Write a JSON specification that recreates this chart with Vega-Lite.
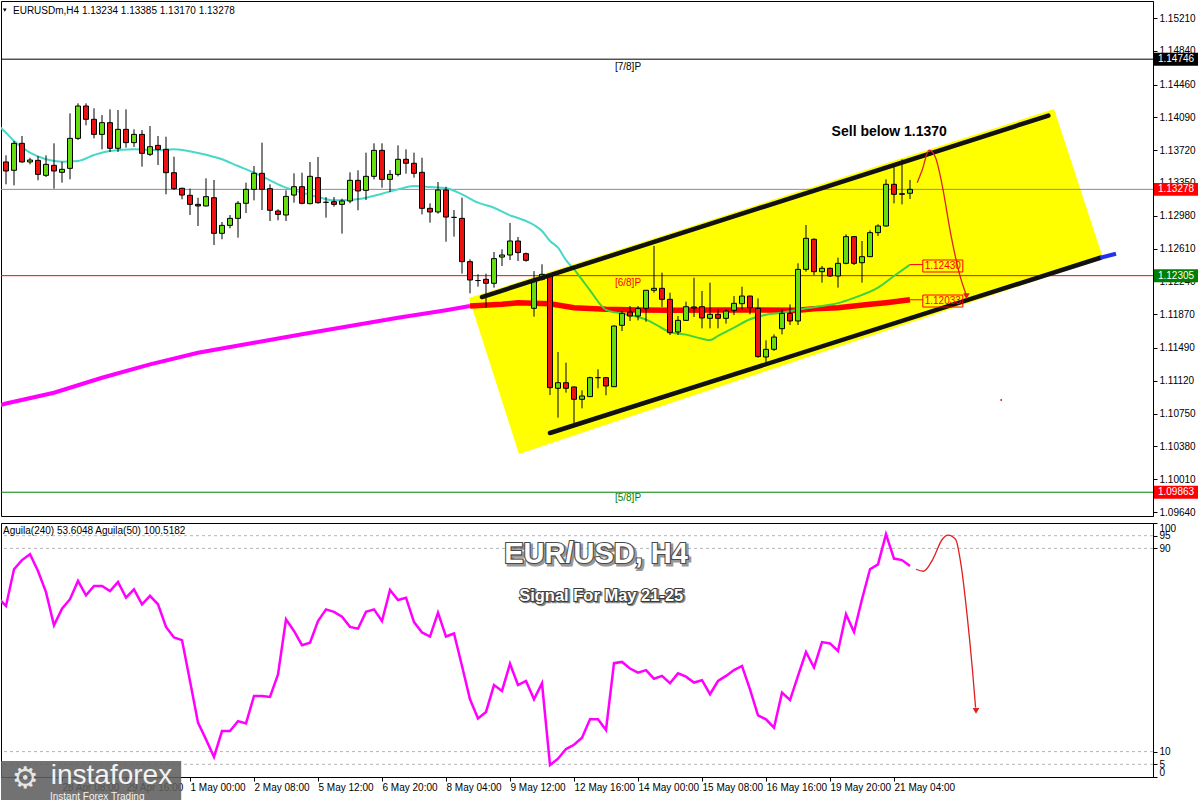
{
"$schema": "https://vega.github.io/schema/vega-lite/v6.json",
"background": "white",
"padding": 0,
"spacing": 4,
"config": {"view": {"stroke": "#000000", "strokeWidth": 1}, "scale": {"continuousPadding": 0}, "font": "Liberation Sans", "axis": {"labelOverlap": false}},
"datasets": {
"one": [{"n": 1}],
"candles": [
{"k":0,"o":1.13587,"h":1.13662,"l":1.13335,"c":1.13485},
{"k":1,"o":1.13493,"h":1.13823,"l":1.13323,"c":1.13797},
{"k":2,"o":1.13797,"h":1.13880,"l":1.13579,"c":1.13587},
{"k":3,"o":1.13587,"h":1.13635,"l":1.13560,"c":1.13609},
{"k":4,"o":1.13605,"h":1.13654,"l":1.13380,"c":1.13447},
{"k":5,"o":1.13436,"h":1.13662,"l":1.13417,"c":1.13560},
{"k":6,"o":1.13549,"h":1.13797,"l":1.13286,"c":1.13485},
{"k":7,"o":1.13470,"h":1.13590,"l":1.13354,"c":1.13504},
{"k":8,"o":1.13515,"h":1.14135,"l":1.13391,"c":1.13853},
{"k":9,"o":1.13853,"h":1.14248,"l":1.13835,"c":1.14218},
{"k":10,"o":1.14218,"h":1.14248,"l":1.14000,"c":1.14068},
{"k":11,"o":1.14068,"h":1.14192,"l":1.13853,"c":1.13898},
{"k":12,"o":1.13898,"h":1.14116,"l":1.13729,"c":1.14030},
{"k":13,"o":1.14030,"h":1.14180,"l":1.13699,"c":1.13741},
{"k":14,"o":1.13741,"h":1.14173,"l":1.13699,"c":1.13955},
{"k":15,"o":1.13955,"h":1.14180,"l":1.13748,"c":1.13805},
{"k":16,"o":1.13805,"h":1.13955,"l":1.13756,"c":1.13898},
{"k":17,"o":1.13898,"h":1.13947,"l":1.13534,"c":1.13684},
{"k":18,"o":1.13673,"h":1.13992,"l":1.13654,"c":1.13759},
{"k":19,"o":1.13774,"h":1.13880,"l":1.13553,"c":1.13729},
{"k":20,"o":1.13729,"h":1.13872,"l":1.13222,"c":1.13466},
{"k":21,"o":1.13466,"h":1.13647,"l":1.13271,"c":1.13286},
{"k":22,"o":1.13290,"h":1.13297,"l":1.13166,"c":1.13214},
{"k":23,"o":1.13211,"h":1.13286,"l":1.12989,"c":1.13109},
{"k":24,"o":1.13109,"h":1.13184,"l":1.12865,"c":1.13091},
{"k":25,"o":1.13091,"h":1.13402,"l":1.13085,"c":1.13196},
{"k":26,"o":1.13184,"h":1.13384,"l":1.12651,"c":1.12782},
{"k":27,"o":1.12782,"h":1.12910,"l":1.12715,"c":1.12872},
{"k":28,"o":1.12872,"h":1.12989,"l":1.12839,"c":1.12951},
{"k":29,"o":1.12951,"h":1.13147,"l":1.12734,"c":1.13121},
{"k":30,"o":1.13121,"h":1.13354,"l":1.13011,"c":1.13278},
{"k":31,"o":1.13278,"h":1.13541,"l":1.13154,"c":1.13459},
{"k":32,"o":1.13459,"h":1.13805,"l":1.13045,"c":1.13278},
{"k":33,"o":1.13286,"h":1.13335,"l":1.12921,"c":1.13042},
{"k":34,"o":1.13034,"h":1.13053,"l":1.12929,"c":1.12996},
{"k":35,"o":1.12989,"h":1.13267,"l":1.12921,"c":1.13199},
{"k":36,"o":1.13214,"h":1.13459,"l":1.13128,"c":1.13308},
{"k":37,"o":1.13308,"h":1.13466,"l":1.13109,"c":1.13121},
{"k":38,"o":1.13117,"h":1.13587,"l":1.13109,"c":1.13425},
{"k":39,"o":1.13410,"h":1.13643,"l":1.13117,"c":1.13128},
{"k":40,"o":1.13132,"h":1.13192,"l":1.12959,"c":1.13132},
{"k":41,"o":1.13139,"h":1.13192,"l":1.13083,"c":1.13109},
{"k":42,"o":1.13109,"h":1.13173,"l":1.12779,"c":1.13147},
{"k":43,"o":1.13147,"h":1.13470,"l":1.13121,"c":1.13380},
{"k":44,"o":1.13380,"h":1.13493,"l":1.13042,"c":1.13260},
{"k":45,"o":1.13267,"h":1.13692,"l":1.13158,"c":1.13425},
{"k":46,"o":1.13425,"h":1.13797,"l":1.13391,"c":1.13718},
{"k":47,"o":1.13718,"h":1.13797,"l":1.13297,"c":1.13391},
{"k":48,"o":1.13391,"h":1.13496,"l":1.13248,"c":1.13447},
{"k":49,"o":1.13447,"h":1.13774,"l":1.13425,"c":1.13617},
{"k":50,"o":1.13617,"h":1.13729,"l":1.13455,"c":1.13572},
{"k":51,"o":1.13572,"h":1.13692,"l":1.13410,"c":1.13459},
{"k":52,"o":1.13470,"h":1.13635,"l":1.12996,"c":1.13064},
{"k":53,"o":1.13064,"h":1.13121,"l":1.12903,"c":1.13023},
{"k":54,"o":1.13023,"h":1.13361,"l":1.13004,"c":1.13271},
{"k":55,"o":1.13271,"h":1.13308,"l":1.12688,"c":1.12966},
{"k":56,"o":1.12962,"h":1.13045,"l":1.12745,"c":1.12962},
{"k":57,"o":1.12951,"h":1.13184,"l":1.12328,"c":1.12463},
{"k":58,"o":1.12463,"h":1.12489,"l":1.12106,"c":1.12256},
{"k":59,"o":1.12250,"h":1.12320,"l":1.12181,"c":1.12250},
{"k":60,"o":1.12264,"h":1.12328,"l":1.11944,"c":1.12219},
{"k":61,"o":1.12219,"h":1.12572,"l":1.12170,"c":1.12497},
{"k":62,"o":1.12515,"h":1.12602,"l":1.12414,"c":1.12538},
{"k":63,"o":1.12538,"h":1.12900,"l":1.12481,"c":1.12696},
{"k":64,"o":1.12696,"h":1.12741,"l":1.12470,"c":1.12565},
{"k":65,"o":1.12553,"h":1.12565,"l":1.12463,"c":1.12478},
{"k":66,"o":1.11937,"h":1.12357,"l":1.11843,"c":1.12245},
{"k":67,"o":1.12264,"h":1.12433,"l":1.12250,"c":1.12320},
{"k":68,"o":1.12301,"h":1.12320,"l":1.10960,"c":1.11042},
{"k":69,"o":1.11035,"h":1.11444,"l":1.10704,"c":1.11098},
{"k":70,"o":1.11098,"h":1.11324,"l":1.10986,"c":1.11035},
{"k":71,"o":1.11050,"h":1.11055,"l":1.10636,"c":1.10911},
{"k":72,"o":1.10911,"h":1.11012,"l":1.10809,"c":1.10948},
{"k":73,"o":1.10941,"h":1.11166,"l":1.10941,"c":1.11155},
{"k":74,"o":1.11155,"h":1.11249,"l":1.11035,"c":1.11155},
{"k":75,"o":1.11155,"h":1.11162,"l":1.10956,"c":1.11061},
{"k":76,"o":1.11053,"h":1.11745,"l":1.11050,"c":1.11737},
{"k":77,"o":1.11745,"h":1.11907,"l":1.11681,"c":1.11880},
{"k":78,"o":1.11895,"h":1.11963,"l":1.11794,"c":1.11850},
{"k":79,"o":1.11850,"h":1.11963,"l":1.11801,"c":1.11933},
{"k":80,"o":1.11937,"h":1.12140,"l":1.11786,"c":1.12140},
{"k":81,"o":1.12140,"h":1.12640,"l":1.12113,"c":1.12162},
{"k":82,"o":1.12162,"h":1.12339,"l":1.11952,"c":1.12038},
{"k":83,"o":1.12038,"h":1.12113,"l":1.11636,"c":1.11662},
{"k":84,"o":1.11670,"h":1.11850,"l":1.11636,"c":1.11801},
{"k":85,"o":1.11801,"h":1.12012,"l":1.11794,"c":1.11955},
{"k":86,"o":1.11952,"h":1.12282,"l":1.11839,"c":1.11940},
{"k":87,"o":1.11955,"h":1.12132,"l":1.11711,"c":1.11828},
{"k":88,"o":1.11824,"h":1.12226,"l":1.11711,"c":1.11869},
{"k":89,"o":1.11869,"h":1.11925,"l":1.11711,"c":1.11824},
{"k":90,"o":1.11824,"h":1.11925,"l":1.11764,"c":1.11906},
{"k":91,"o":1.11914,"h":1.12075,"l":1.11861,"c":1.11993},
{"k":92,"o":1.11989,"h":1.12181,"l":1.11925,"c":1.12075},
{"k":93,"o":1.12075,"h":1.12080,"l":1.11869,"c":1.11944},
{"k":94,"o":1.11937,"h":1.12049,"l":1.11380,"c":1.11392},
{"k":95,"o":1.11388,"h":1.11576,"l":1.11313,"c":1.11474},
{"k":96,"o":1.11474,"h":1.11643,"l":1.11456,"c":1.11613},
{"k":97,"o":1.11707,"h":1.11925,"l":1.11643,"c":1.11880},
{"k":98,"o":1.11880,"h":1.11981,"l":1.11749,"c":1.11794},
{"k":99,"o":1.11794,"h":1.12444,"l":1.11749,"c":1.12376},
{"k":100,"o":1.12376,"h":1.12876,"l":1.12350,"c":1.12726},
{"k":101,"o":1.12715,"h":1.12726,"l":1.12312,"c":1.12350},
{"k":102,"o":1.12350,"h":1.12414,"l":1.12226,"c":1.12388},
{"k":103,"o":1.12388,"h":1.12395,"l":1.12290,"c":1.12301},
{"k":104,"o":1.12301,"h":1.12508,"l":1.12170,"c":1.12444},
{"k":105,"o":1.12444,"h":1.12771,"l":1.12433,"c":1.12745},
{"k":106,"o":1.12745,"h":1.12752,"l":1.12425,"c":1.12444},
{"k":107,"o":1.12451,"h":1.12696,"l":1.12226,"c":1.12519},
{"k":108,"o":1.12519,"h":1.12816,"l":1.12515,"c":1.12790},
{"k":109,"o":1.12790,"h":1.12884,"l":1.12752,"c":1.12865},
{"k":110,"o":1.12865,"h":1.13391,"l":1.12857,"c":1.13335},
{"k":111,"o":1.13335,"h":1.13530,"l":1.13120,"c":1.13222},
{"k":112,"o":1.13229,"h":1.13616,"l":1.13109,"c":1.13222},
{"k":113,"o":1.13234,"h":1.13385,"l":1.13170,"c":1.13278}
],
"maCyan": [
{"k":-0.7,"p":1.13975},{"k":0,"p":1.13917},{"k":1,"p":1.13823},{"k":3,"p":1.13692},{"k":5,"p":1.13617},{"k":7,"p":1.13590},{"k":9,"p":1.13598},{"k":11,"p":1.13665},{"k":13,"p":1.13711},{"k":16,"p":1.13729},{"k":19,"p":1.13722},{"k":21,"p":1.13729},{"k":24,"p":1.13688},{"k":27,"p":1.13617},{"k":29,"p":1.13541},{"k":31,"p":1.13466},{"k":33,"p":1.13380},{"k":35,"p":1.13297},{"k":37,"p":1.13241},{"k":39,"p":1.13192},{"k":41,"p":1.13154},{"k":43,"p":1.13158},{"k":45,"p":1.13184},{"k":47,"p":1.13229},{"k":49,"p":1.13278},{"k":51,"p":1.13316},{"k":53,"p":1.13305},{"k":55,"p":1.13290},{"k":57,"p":1.13222},{"k":59,"p":1.13128},{"k":61,"p":1.13071},{"k":63,"p":1.12985},{"k":64,"p":1.12955},{"k":66,"p":1.12876},{"k":67,"p":1.12808},{"k":68,"p":1.12696},{"k":69,"p":1.12620},{"k":70,"p":1.12480},{"k":71,"p":1.12380}
],
"maGreen": [
{"k":71,"p":1.12380},{"k":72,"p":1.12260},{"k":73,"p":1.12140},{"k":75,"p":1.11920},{"k":77,"p":1.11878},{"k":79,"p":1.11839},{"k":80,"p":1.11810},{"k":81,"p":1.11765},{"k":83,"p":1.11668},{"k":85,"p":1.11640},{"k":87,"p":1.11593},{"k":88,"p":1.11579},{"k":89,"p":1.11625},{"k":91,"p":1.11718},{"k":93,"p":1.11813},{"k":95,"p":1.11865},{"k":97,"p":1.11887},{"k":99,"p":1.11920},{"k":102,"p":1.11963},{"k":104,"p":1.11995},{"k":106,"p":1.12055},{"k":109,"p":1.12169},{"k":111,"p":1.12301},{"k":113,"p":1.12430}
],
"maMag": [
{"k":-0.7,"p":1.10845},{"k":0,"p":1.10863},{"k":6,"p":1.10985},{"k":12,"p":1.11154},{"k":18,"p":1.11305},{"k":24,"p":1.11436},{"k":31,"p":1.11549},{"k":37,"p":1.11644},{"k":43,"p":1.11737},{"k":49,"p":1.11831},{"k":55,"p":1.11915},{"k":58,"p":1.11963}
],
"maRed": [
{"k":58,"p":1.11963},{"k":62,"p":1.11982},{"k":64,"p":1.12000},{"k":68,"p":1.11989},{"k":71,"p":1.11944},{"k":75,"p":1.11926},{"k":79,"p":1.11918},{"k":83,"p":1.11914},{"k":89,"p":1.11918},{"k":93,"p":1.11918},{"k":99,"p":1.11914},{"k":101,"p":1.11932},{"k":104,"p":1.11944},{"k":108,"p":1.11982},{"k":110,"p":1.12000},{"k":113,"p":1.12033}
],
"band": [
{"k":57.875,"top":1.12053,"bot":1.12053},{"k":64.125,"top":1.12235,"bot":1.10294},{"k":131,"top":1.14184,"bot":1.12319},{"k":137.125,"top":1.12504,"bot":1.12504}
],
"chanUp": [{"k":59.5,"p":1.12064},{"k":130.3,"p":1.14110}],
"chanLo": [{"k":68,"p":1.10531},{"k":136.8,"p":1.12507}],
"chanBlue": [{"k":136.8,"p":1.12507},{"k":138.75,"p":1.12552}],
"arrowUp": [{"k":113.9,"p":1.13353},{"k":114.5,"p":1.13490},{"k":115.4,"p":1.13720},{"k":116.2,"p":1.13635},{"k":117,"p":1.13335},{"k":118.1,"p":1.12771},{"k":119.2,"p":1.12320},{"k":120,"p":1.12094}],
"arrowLo": [{"k":113.74,"v":81.8},{"k":114.68,"v":81.0},{"k":115.85,"v":85.7},{"k":117.04,"v":93.6},{"k":117.75,"v":95.2},{"k":118.69,"v":93.6},{"k":119.4,"v":83.1},{"k":120.1,"v":64.8},{"k":120.8,"v":42.4},{"k":121.2,"v":27.3}],
"osc": [
{"k":-0.7,"v":69.6},{"k":0,"v":67.3},{"k":1,"v":81.8},{"k":2,"v":85.4},{"k":3,"v":87.7},{"k":4,"v":81.1},{"k":5,"v":72.8},{"k":6,"v":59.7},{"k":7,"v":66.3},{"k":8,"v":70.0},{"k":9,"v":77.2},{"k":10,"v":71.5},{"k":11,"v":75.2},{"k":12,"v":75.2},{"k":13,"v":73.2},{"k":14,"v":76.8},{"k":15,"v":70.6},{"k":16,"v":73.9},{"k":17,"v":68.0},{"k":18,"v":71.3},{"k":19,"v":68.0},{"k":20,"v":59.1},{"k":21,"v":54.9},{"k":22,"v":53.9},{"k":23,"v":37.8},{"k":24,"v":21.4},{"k":25,"v":14.8},{"k":26,"v":7.9},{"k":27,"v":18.1},{"k":28,"v":18.1},{"k":29,"v":22.0},{"k":30,"v":21.1},{"k":31,"v":31.9},{"k":32,"v":31.9},{"k":33,"v":31.5},{"k":34,"v":40.4},{"k":35,"v":62.1},{"k":36,"v":57.5},{"k":37,"v":51.9},{"k":38,"v":52.9},{"k":39,"v":61.4},{"k":40,"v":66.0},{"k":41,"v":65.0},{"k":42,"v":63.1},{"k":43,"v":59.1},{"k":44,"v":58.4},{"k":45,"v":65.0},{"k":46,"v":66.0},{"k":47,"v":61.4},{"k":48,"v":73.6},{"k":49,"v":69.7},{"k":50,"v":70.6},{"k":51,"v":61.0},{"k":52,"v":56.9},{"k":53,"v":55.3},{"k":54,"v":64.7},{"k":55,"v":55.3},{"k":56,"v":56.5},{"k":57,"v":43.7},{"k":58,"v":30.6},{"k":59,"v":23.0},{"k":60,"v":25.6},{"k":61,"v":36.2},{"k":62,"v":33.9},{"k":63,"v":44.6},{"k":64,"v":36.2},{"k":65,"v":37.8},{"k":66,"v":30.6},{"k":67,"v":36.9},{"k":68,"v":4.7},{"k":69,"v":7.2},{"k":70,"v":11.0},{"k":71,"v":12.7},{"k":72,"v":15.5},{"k":73,"v":22.7},{"k":74,"v":22.7},{"k":75,"v":18.5},{"k":76,"v":44.8},{"k":77,"v":45.3},{"k":78,"v":42.7},{"k":79,"v":41.1},{"k":80,"v":42.1},{"k":81,"v":38.7},{"k":82,"v":39.8},{"k":83,"v":36.9},{"k":84,"v":40.8},{"k":85,"v":39.5},{"k":86,"v":37.2},{"k":87,"v":38.1},{"k":88,"v":32.6},{"k":89,"v":37.8},{"k":90,"v":39.8},{"k":91,"v":42.1},{"k":92,"v":43.7},{"k":93,"v":34.5},{"k":94,"v":24.3},{"k":95,"v":22.7},{"k":96,"v":19.4},{"k":97,"v":33.2},{"k":98,"v":30.3},{"k":99,"v":39.8},{"k":100,"v":49.2},{"k":101,"v":43.1},{"k":102,"v":53.1},{"k":103,"v":52.6},{"k":104,"v":49.6},{"k":105,"v":64.1},{"k":106,"v":57.1},{"k":107,"v":70.0},{"k":108,"v":81.8},{"k":109,"v":83.7},{"k":110,"v":95.6},{"k":111,"v":86.0},{"k":112,"v":85.4},{"k":113,"v":83.1}
],
"levels": [{"lv":5},{"lv":10},{"lv":90},{"lv":95}],
"priceTags": [{"p":1.14746,"t":"1.14746"},{"p":1.13278,"t":"1.13278"},{"p":1.12305,"t":"1.12305"},{"p":1.09863,"t":"1.09863"}],
"upTexts": [
{"k":110.4,"p":1.13925,"t":"Sell below 1.1370","g":"sell"},
{"k":77.75,"p":1.14658,"t":"[7/8]P","g":"p7"},
{"k":77.75,"p":1.12222,"t":"[6/8]P","g":"p6"},
{"k":77.75,"p":1.09798,"t":"[5/8]P","g":"p5"},
{"k":117.1,"p":1.12414,"t":"1.12430","g":"ma1"},
{"k":117.1,"p":1.12019,"t":"1.12033","g":"ma2"}
],
"maBoxes": [{"k":117.1,"p":1.12414},{"k":117.1,"p":1.12019}],
"maLinks": [{"k":113,"k2":114.6,"p":1.12430},{"k":113,"k2":114.6,"p":1.12033}],
"header": [{"k":0.875,"p":1.15289,"t":"EURUSDm,H4  1.13234 1.13385 1.13170 1.13278"}],
"headMark": [{"k":-0.15,"p":1.15300}],
"arrowTipUp": [{"k":120.05,"p":1.12075}],
"dot": [{"k":124.4,"p":1.10903}],
"arrowTipLo": [{"k":121.25,"v":26}],
"title": [{"k":73.75,"v":87.7,"t":"EUR/USD, H4"}],
"subtitle": [{"k":74.4,"v":71.3,"t":"Signal For May 21-25"}],
"oscHeader": [{"k":-0.375,"v":96.9,"t":"Aguila(240) 53.6048  Aguila(50) 100.5182"}],
"logoBox": [{"k":-0.625,"k2":21.9,"v":6.3,"v2":-9.8}],
"logoGear": [{"k":2.4,"v":-0.8,"t":"⚙"}],
"logoName": [{"k":5.6,"v":-2.6,"t":"instaforex"}],
"logoTag": [{"k":5.5,"v":-9.0,"t":"Instant Forex Trading"}]
},
"vconcat": [
{
"width": 1152, "height": 515,
"layer": [
{"data": {"name": "band"}, "mark": {"type": "area", "color": "#ffff00", "opacity": 1},
 "encoding": {"x": {"field": "k", "type": "quantitative", "scale": {"domain": [-0.625, 143.375], "nice": false, "zero": false, "padding": 0}, "axis": null},
  "y": {"field": "top", "type": "quantitative", "scale": {"domain": [1.09595, 1.15402], "nice": false, "zero": false},
   "axis": {"orient": "right", "title": null, "grid": false, "tickCount": 40, "values": [1.15210,1.14840,1.14460,1.14090,1.13720,1.13350,1.12980,1.12610,1.12240,1.11870,1.11490,1.11120,1.10750,1.10380,1.10010,1.09640], "format": ".5f", "labelFont": "Liberation Sans", "labelFontSize": 10, "labelColor": "#000000", "tickColor": "#000000", "tickSize": 4, "domainColor": "#000000", "labelPadding": 2, "labelOverlap": false, "labelFlush": false, "labelBound": false}},
  "y2": {"field": "bot"}}},
{"data": {"name": "one"}, "mark": {"type": "rule", "color": "#000000", "strokeWidth": 1}, "encoding": {"y": {"datum": 1.14746, "type": "quantitative"}}},
{"data": {"name": "one"}, "mark": {"type": "rule", "color": "#7d8ea8", "strokeWidth": 1}, "encoding": {"y": {"datum": 1.13278, "type": "quantitative"}}},
{"data": {"name": "one"}, "mark": {"type": "rule", "color": "#ff0000", "strokeWidth": 1}, "encoding": {"y": {"datum": 1.12305, "type": "quantitative"}}},
{"data": {"name": "one"}, "mark": {"type": "rule", "color": "#008000", "strokeWidth": 1}, "encoding": {"y": {"datum": 1.09863, "type": "quantitative"}}},
{"data": {"name": "maMag"}, "mark": {"type": "line", "color": "#ff00ff", "strokeWidth": 4, "clip": true},
 "encoding": {"x": {"field": "k", "type": "quantitative", "axis": null}, "y": {"field": "p", "type": "quantitative"}}},
{"data": {"name": "maRed"}, "mark": {"type": "line", "color": "#ff0000", "strokeWidth": 5.5},
 "encoding": {"x": {"field": "k", "type": "quantitative", "axis": null}, "y": {"field": "p", "type": "quantitative"}}},
{"data": {"name": "maCyan"}, "mark": {"type": "line", "color": "#48d8c8", "strokeWidth": 2, "interpolate": "monotone", "clip": true},
 "encoding": {"x": {"field": "k", "type": "quantitative", "axis": null}, "y": {"field": "p", "type": "quantitative"}}},
{"data": {"name": "maGreen"}, "mark": {"type": "line", "color": "#3fd23f", "strokeWidth": 2, "interpolate": "monotone"},
 "encoding": {"x": {"field": "k", "type": "quantitative", "axis": null}, "y": {"field": "p", "type": "quantitative"}}},
{"data": {"name": "candles"}, "mark": {"type": "rule", "color": "#000000", "strokeWidth": 1},
 "encoding": {"x": {"field": "k", "type": "quantitative", "axis": null}, "y": {"field": "l", "type": "quantitative"}, "y2": {"field": "h"}}},
{"data": {"name": "candles"}, "mark": {"type": "bar", "width": 5, "stroke": "#000000", "strokeWidth": 1},
 "encoding": {"x": {"field": "k", "type": "quantitative", "axis": null}, "y": {"field": "o", "type": "quantitative"}, "y2": {"field": "c"},
  "fill": {"condition": {"test": "datum.c >= datum.o", "value": "#66dd11"}, "value": "#ee1111"}}},
{"data": {"name": "chanUp"}, "mark": {"type": "line", "color": "#111111", "strokeWidth": 4.5, "strokeCap": "round"},
 "encoding": {"x": {"field": "k", "type": "quantitative", "axis": null}, "y": {"field": "p", "type": "quantitative"}}},
{"data": {"name": "chanLo"}, "mark": {"type": "line", "color": "#111111", "strokeWidth": 4.5, "strokeCap": "round"},
 "encoding": {"x": {"field": "k", "type": "quantitative", "axis": null}, "y": {"field": "p", "type": "quantitative"}}},
{"data": {"name": "chanBlue"}, "mark": {"type": "line", "color": "#2233ee", "strokeWidth": 4},
 "encoding": {"x": {"field": "k", "type": "quantitative", "axis": null}, "y": {"field": "p", "type": "quantitative"}}},
{"data": {"name": "arrowUp"}, "mark": {"type": "line", "color": "#e02020", "strokeWidth": 1.3, "interpolate": "monotone"},
 "encoding": {"x": {"field": "k", "type": "quantitative", "axis": null}, "y": {"field": "p", "type": "quantitative"}}},
{"data": {"name": "arrowTipUp"}, "mark": {"type": "point", "shape": "triangle-down", "filled": true, "color": "#e02020", "size": 45, "opacity": 1},
 "encoding": {"x": {"field": "k", "type": "quantitative", "axis": null}, "y": {"field": "p", "type": "quantitative"}}},
{"data": {"name": "dot"}, "mark": {"type": "point", "shape": "circle", "filled": true, "color": "#e02020", "size": 4, "opacity": 1},
 "encoding": {"x": {"field": "k", "type": "quantitative", "axis": null}, "y": {"field": "p", "type": "quantitative"}}},
{"data": {"name": "maLinks"}, "mark": {"type": "rule", "color": "#ff0000", "strokeWidth": 1},
 "encoding": {"x": {"field": "k", "type": "quantitative", "axis": null}, "x2": {"field": "k2"}, "y": {"field": "p", "type": "quantitative"}}},
{"data": {"name": "maBoxes"}, "mark": {"type": "point", "shape": "M-1,-0.3L1,-0.3L1,0.3L-1,0.3Z", "filled": false, "stroke": "#ff0000", "strokeWidth": 1, "size": 1600, "opacity": 1},
 "encoding": {"x": {"field": "k", "type": "quantitative", "axis": null}, "y": {"field": "p", "type": "quantitative"}}},
{"data": {"name": "upTexts"}, "transform": [{"filter": "datum.g == 'sell'"}], "mark": {"type": "text", "font": "Liberation Sans", "fontSize": 14, "fontWeight": "bold", "color": "#000000", "align": "center", "baseline": "middle"},
 "encoding": {"x": {"field": "k", "type": "quantitative", "axis": null}, "y": {"field": "p", "type": "quantitative"}, "text": {"field": "t"}}},
{"data": {"name": "upTexts"}, "transform": [{"filter": "datum.g != 'sell'"}], "mark": {"type": "text", "font": "Liberation Sans", "fontSize": 10, "align": "center", "baseline": "middle"},
 "encoding": {"x": {"field": "k", "type": "quantitative", "axis": null}, "y": {"field": "p", "type": "quantitative"}, "text": {"field": "t"},
  "color": {"field": "g", "type": "nominal", "scale": {"domain": ["p7", "p6", "p5", "ma1", "ma2"], "range": ["#000000", "#ff0000", "#008000", "#ff0000", "#ff0000"]}, "legend": null}}},
{"data": {"name": "header"}, "mark": {"type": "text", "font": "Liberation Sans", "fontSize": 10, "color": "#000000", "align": "left", "baseline": "middle"},
 "encoding": {"x": {"field": "k", "type": "quantitative", "axis": null}, "y": {"field": "p", "type": "quantitative"}, "text": {"field": "t"}}},
{"data": {"name": "headMark"}, "mark": {"type": "point", "shape": "triangle-down", "filled": true, "color": "#000000", "size": 14, "opacity": 1},
 "encoding": {"x": {"field": "k", "type": "quantitative", "axis": null}, "y": {"field": "p", "type": "quantitative"}}},
{"data": {"name": "priceTags"}, "mark": {"type": "point", "shape": "M-1,-0.295L1,-0.295L1,0.295L-1,0.295Z", "filled": true, "size": 1936, "opacity": 1},
 "encoding": {"x": {"datum": 146.25, "type": "quantitative", "axis": null}, "y": {"field": "p", "type": "quantitative"},
  "color": {"field": "t", "type": "nominal", "scale": {"domain": ["1.14746", "1.13278", "1.12305", "1.09863"], "range": ["#000000", "#000000", "#ff0000", "#008000"]}, "legend": null}}},
{"data": {"name": "priceTags"}, "mark": {"type": "text", "font": "Liberation Sans", "fontSize": 10, "color": "#ffffff", "align": "center", "baseline": "middle"},
 "encoding": {"x": {"datum": 146.25, "type": "quantitative", "axis": null}, "y": {"field": "p", "type": "quantitative"}, "text": {"field": "t"}}}
]
},
{
"width": 1152, "height": 254,
"layer": [
{"data": {"name": "levels"}, "mark": {"type": "rule", "color": "#b4b4b4", "strokeWidth": 1, "strokeDash": [3, 3]},
 "encoding": {"y": {"field": "lv", "type": "quantitative", "scale": {"domain": [0, 100], "nice": false, "zero": false},
  "axis": {"orient": "right", "title": null, "grid": false, "tickCount": 20, "values": [0, 5, 10, 90, 95, 100], "labelFont": "Liberation Sans", "labelFontSize": 10, "labelColor": "#000000", "tickColor": "#000000", "tickSize": 4, "domainColor": "#000000", "labelPadding": 2, "labelOverlap": false, "labelFlush": true}}}},
{"data": {"name": "osc"}, "mark": {"type": "line", "color": "#ff00ff", "strokeWidth": 2.5, "clip": true},
 "encoding": {"x": {"field": "k", "type": "quantitative", "scale": {"domain": [-0.625, 143.375], "nice": false, "zero": false, "padding": 0},
  "axis": {"title": null, "grid": false, "tickCount": 40, "values": [7, 15, 23, 31, 39, 47, 55, 63, 71, 79, 87, 95, 103, 111], "labelExpr": "datum.value == 7 ? '28 Apr 08:00' : datum.value == 15 ? '29 Apr 16:00' : datum.value == 23 ? '1 May 00:00' : datum.value == 31 ? '2 May 08:00' : datum.value == 39 ? '5 May 12:00' : datum.value == 47 ? '6 May 20:00' : datum.value == 55 ? '8 May 04:00' : datum.value == 63 ? '9 May 12:00' : datum.value == 71 ? '12 May 16:00' : datum.value == 79 ? '14 May 00:00' : datum.value == 87 ? '15 May 08:00' : datum.value == 95 ? '16 May 16:00' : datum.value == 103 ? '19 May 20:00' : '21 May 04:00'", "labelFont": "Liberation Sans", "labelFontSize": 10, "labelColor": "#000000", "labelAlign": "left", "labelOffset": 0, "labelPadding": 1, "labelFlush": false, "labelOverlap": false, "labelBound": false, "tickColor": "#000000", "tickSize": 4, "domainColor": "#000000"}},
  "y": {"field": "v", "type": "quantitative"}}},
{"data": {"name": "arrowLo"}, "mark": {"type": "line", "color": "#e02020", "strokeWidth": 1.3, "interpolate": "monotone"},
 "encoding": {"x": {"field": "k", "type": "quantitative"}, "y": {"field": "v", "type": "quantitative"}}},
{"data": {"name": "arrowTipLo"}, "mark": {"type": "point", "shape": "triangle-down", "filled": true, "color": "#e02020", "size": 45, "opacity": 1},
 "encoding": {"x": {"field": "k", "type": "quantitative"}, "y": {"field": "v", "type": "quantitative"}}},
{"data": {"name": "title"}, "mark": {"type": "text", "font": "Liberation Sans", "fontSize": 29, "fontWeight": "bold", "color": "#555555", "stroke": "#555555", "strokeWidth": 3, "opacity": 0.6, "align": "center", "baseline": "middle", "dx": 2, "dy": 2},
 "encoding": {"x": {"field": "k", "type": "quantitative"}, "y": {"field": "v", "type": "quantitative"}, "text": {"field": "t"}}},
{"data": {"name": "title"}, "mark": {"type": "text", "font": "Liberation Sans", "fontSize": 29, "fontWeight": "bold", "color": "#4a4a4a", "stroke": "#4a4a4a", "strokeWidth": 2.2, "align": "center", "baseline": "middle"},
 "encoding": {"x": {"field": "k", "type": "quantitative"}, "y": {"field": "v", "type": "quantitative"}, "text": {"field": "t"}}},
{"data": {"name": "title"}, "mark": {"type": "text", "font": "Liberation Sans", "fontSize": 29, "fontWeight": "bold", "color": "#ffffff", "align": "center", "baseline": "middle"},
 "encoding": {"x": {"field": "k", "type": "quantitative"}, "y": {"field": "v", "type": "quantitative"}, "text": {"field": "t"}}},
{"data": {"name": "subtitle"}, "mark": {"type": "text", "font": "Liberation Sans", "fontSize": 16.5, "fontWeight": "bold", "color": "#333333", "stroke": "#333333", "strokeWidth": 2.5, "opacity": 0.6, "align": "center", "baseline": "middle", "dx": 1.5, "dy": 1.5},
 "encoding": {"x": {"field": "k", "type": "quantitative"}, "y": {"field": "v", "type": "quantitative"}, "text": {"field": "t"}}},
{"data": {"name": "subtitle"}, "mark": {"type": "text", "font": "Liberation Sans", "fontSize": 16.5, "fontWeight": "bold", "color": "#3a3a3a", "stroke": "#3a3a3a", "strokeWidth": 2, "align": "center", "baseline": "middle"},
 "encoding": {"x": {"field": "k", "type": "quantitative"}, "y": {"field": "v", "type": "quantitative"}, "text": {"field": "t"}}},
{"data": {"name": "subtitle"}, "mark": {"type": "text", "font": "Liberation Sans", "fontSize": 16.5, "fontWeight": "bold", "color": "#ffffff", "align": "center", "baseline": "middle"},
 "encoding": {"x": {"field": "k", "type": "quantitative"}, "y": {"field": "v", "type": "quantitative"}, "text": {"field": "t"}}},
{"data": {"name": "oscHeader"}, "mark": {"type": "text", "font": "Liberation Sans", "fontSize": 10, "color": "#000000", "align": "left", "baseline": "middle"},
 "encoding": {"x": {"field": "k", "type": "quantitative"}, "y": {"field": "v", "type": "quantitative"}, "text": {"field": "t"}}},
{"data": {"name": "logoBox"}, "mark": {"type": "rect", "color": "#5e5e5e", "opacity": 0.88},
 "encoding": {"x": {"field": "k", "type": "quantitative"}, "x2": {"field": "k2"}, "y": {"field": "v", "type": "quantitative"}, "y2": {"field": "v2"}}},
{"data": {"name": "logoGear"}, "mark": {"type": "text", "font": "DejaVu Sans", "fontSize": 30, "color": "#e6e6e6", "align": "center", "baseline": "middle"},
 "encoding": {"x": {"field": "k", "type": "quantitative"}, "y": {"field": "v", "type": "quantitative"}, "text": {"field": "t"}}},
{"data": {"name": "logoName"}, "mark": {"type": "text", "font": "Liberation Sans", "fontSize": 28, "color": "#f2f2f2", "align": "left", "baseline": "alphabetic"},
 "encoding": {"x": {"field": "k", "type": "quantitative"}, "y": {"field": "v", "type": "quantitative"}, "text": {"field": "t"}}},
{"data": {"name": "logoTag"}, "mark": {"type": "text", "font": "Liberation Sans", "fontSize": 10, "color": "#f2f2f2", "align": "left", "baseline": "alphabetic"},
 "encoding": {"x": {"field": "k", "type": "quantitative"}, "y": {"field": "v", "type": "quantitative"}, "text": {"field": "t"}}}
]
}
]
}
